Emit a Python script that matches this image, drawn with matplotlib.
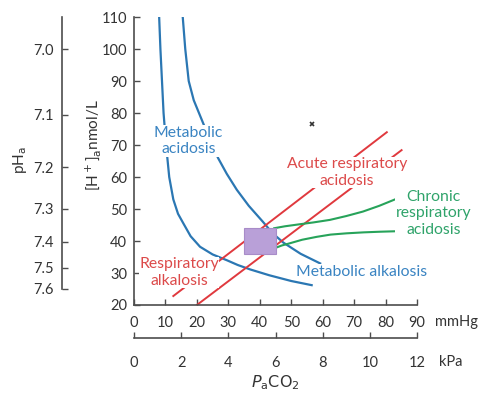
"""
Acid-base diagram: [H+] against PaCO2 with pH and kPa scales
"""

import matplotlib.pyplot as plt
from matplotlib.patches import Rectangle

plt.rcParams['font.family'] = ['Lato', 'DejaVu Sans']

# Metabolic band edges (PaCO2 mmHg, [H+] nmol/L)
met_left_x = [8.0, 8.4, 8.9, 9.4, 10.2, 11.2, 12.5, 14.0, 15.7, 18.0, 21.0,
              25.0, 29.5, 33.0, 37.0, 43.0, 50.0, 56.5]
met_left_h = [110, 100, 90, 80, 70, 60, 53, 48.5, 45.5, 41.5, 38.2,
              35.8, 34.0, 32.5, 31.1, 29.3, 27.5, 26.2]
met_right_x = [15.5, 16.3, 17.4, 19.0, 21.5, 24.0, 26.7, 29.5, 32.7, 36.5,
               41.0, 44.0, 47.5, 53.0, 59.2]
met_right_h = [110, 100, 90, 84, 78, 72, 66, 61, 56, 51,
               46, 42.5, 39.5, 36, 33]

# Acute respiratory lines
acute_up_x = [12.5, 80.4]
acute_up_h = [22.8, 74.0]
acute_lo_x = [20.0, 85.1]
acute_lo_h = [20.0, 68.4]

# Chronic respiratory acidosis band
chron_up_x = [44.6, 48.0, 51.7, 57.0, 62.3, 67.5, 72.8, 78.0, 83.5]
chron_up_h = [44.0, 44.6, 45.1, 45.8, 46.6, 47.8, 49.2, 51.0, 53.2]
chron_lo_x = [44.6, 47.0, 49.6, 53.5, 58.1, 62.5, 67.6, 73.0, 78.2, 85.0]
chron_lo_h = [37.7, 38.6, 39.3, 40.4, 41.3, 42.0, 42.4, 42.7, 42.9, 43.1]

# Normal range
normal_x = [35, 45]
normal_h = [36, 44]

mmhg_ticks = list(range(0, 91, 10))
h_ticks = list(range(20, 111, 10))
kpa_ticks = [0, 2, 4, 6, 8, 10, 12]
ph_ticks = [7.0, 7.1, 7.2, 7.3, 7.4, 7.5, 7.6]

blue = '#2b77b3'
red = '#e0393e'
green = '#27a35a'
grey = '#4d4d4d'
tick_fs = 10.5

fig = plt.figure(figsize=(4.88, 3.96), dpi=100)
ax = fig.add_axes([0.2746, 0.2298, 0.5799, 0.7272])

ax.plot(met_left_x, met_left_h, color=blue, lw=1.6, zorder=2)
ax.plot(met_right_x, met_right_h, color=blue, lw=1.6, zorder=2)
ax.plot(acute_up_x, acute_up_h, color=red, lw=1.4, zorder=2, clip_on=False)
ax.plot(acute_lo_x, acute_lo_h, color=red, lw=1.4, zorder=2)
ax.plot(chron_up_x, chron_up_h, color=green, lw=1.5, zorder=2)
ax.plot(chron_lo_x, chron_lo_h, color=green, lw=1.5, zorder=2)
ax.add_patch(Rectangle((normal_x[0], normal_h[0]), normal_x[1] - normal_x[0],
                       normal_h[1] - normal_h[0], facecolor='#b9a0d8',
                       edgecolor='#a88cc8', lw=0.8, zorder=3))
ax.plot([56.7], [76.6], marker='x', color='#333333', ms=3.5, mew=1.2)

box = dict(facecolor='white', edgecolor='none', pad=0.3)
fs = 11.3
ls = 1.22
ax.text(17.3, 71.3, 'Metabolic\nacidosis', color='#3a84c2', fontsize=fs,
        ha='center', va='center', linespacing=ls, bbox=box, zorder=4)
ax.text(67.7, 61.4, 'Acute respiratory\nacidosis', color='#dc4a4a',
        fontsize=fs, ha='center', va='center', linespacing=ls, bbox=box,
        zorder=4)
ax.text(95.2, 48.6, 'Chronic\nrespiratory\nacidosis', color='#2fa36a',
        fontsize=fs, ha='center', va='center', linespacing=ls, bbox=box,
        zorder=4, clip_on=False)
ax.text(72.4, 30.4, 'Metabolic alkalosis', color='#3a84c2', fontsize=fs,
        ha='center', va='center', bbox=box, zorder=4)
ax.text(14.3, 30.2, 'Respiratory\nalkalosis', color='#dc4a4a', fontsize=fs,
        ha='center', va='center', linespacing=ls, bbox=box, zorder=4)

ax.set_xlim(0, 90)
ax.set_ylim(20, 110)
ax.set_xticks(mmhg_ticks)
ax.set_yticks(h_ticks)
for s in ['top', 'right']:
    ax.spines[s].set_visible(False)
for s in ['left', 'bottom']:
    ax.spines[s].set_color(grey)
    ax.spines[s].set_linewidth(1.2)
ax.tick_params(direction='in', length=4, width=1, color=grey,
               labelcolor='#333333', labelsize=tick_fs)
ax.tick_params(axis='x', pad=8)
ax.tick_params(axis='y', pad=5)

# kPa scale
ax_k = fig.add_axes([0.2746, 0.1465, 0.5799, 0.001])
ax_k.set_xlim(0, 12)
ax_k.set_xticks(kpa_ticks)
ax_k.set_yticks([])
for s in ['top', 'right', 'left']:
    ax_k.spines[s].set_visible(False)
ax_k.spines['bottom'].set_color(grey)
ax_k.spines['bottom'].set_linewidth(1.2)
ax_k.tick_params(direction='in', length=4, width=1, color=grey,
                 labelcolor='#333333', labelsize=tick_fs, pad=13)
ax_k.patch.set_alpha(0)

# pH scale
ax_p = fig.add_axes([0.127, 0.2298, 0.001, 0.7272])
ax_p.set_ylim(20, 110)
ax_p.set_yticks([10 ** (9 - p) for p in ph_ticks])
ax_p.set_yticklabels([f'{p:.1f}' for p in ph_ticks])
ax_p.set_xticks([])
for s in ['top', 'right', 'bottom']:
    ax_p.spines[s].set_visible(False)
ax_p.spines['left'].set_bounds(10 ** (9 - 7.6), 110)
ax_p.spines['left'].set_color(grey)
ax_p.spines['left'].set_linewidth(1.2)
ax_p.tick_params(direction='in', length=4, width=1, color=grey,
                 labelcolor='#333333', labelsize=tick_fs, pad=6)
ax_p.patch.set_alpha(0)

fig.text(457 / 488, 1 - 322 / 396, 'mmHg', color='#333333', fontsize=tick_fs,
         ha='center', va='center')
fig.text(451 / 488, 1 - 362 / 396, 'kPa', color='#333333', fontsize=tick_fs,
         ha='center', va='center')
fig.text(275 / 488, 1 - 383 / 396, r'$P_\mathrm{a}\mathrm{CO}_2$',
         color='#333333', fontsize=11.5, ha='center', va='center')
fig.text(20 / 488, 1 - 160 / 396, r'pH$_\mathrm{a}$', color='#333333',
         fontsize=11, ha='center', va='center', rotation=90)
fig.text(93 / 488, 1 - 145 / 396, r'[H$^+$]$_\mathrm{a}$nmol/L',
         color='#333333', fontsize=11, ha='center', va='center', rotation=90)

fig.savefig('out.png', dpi=100)
